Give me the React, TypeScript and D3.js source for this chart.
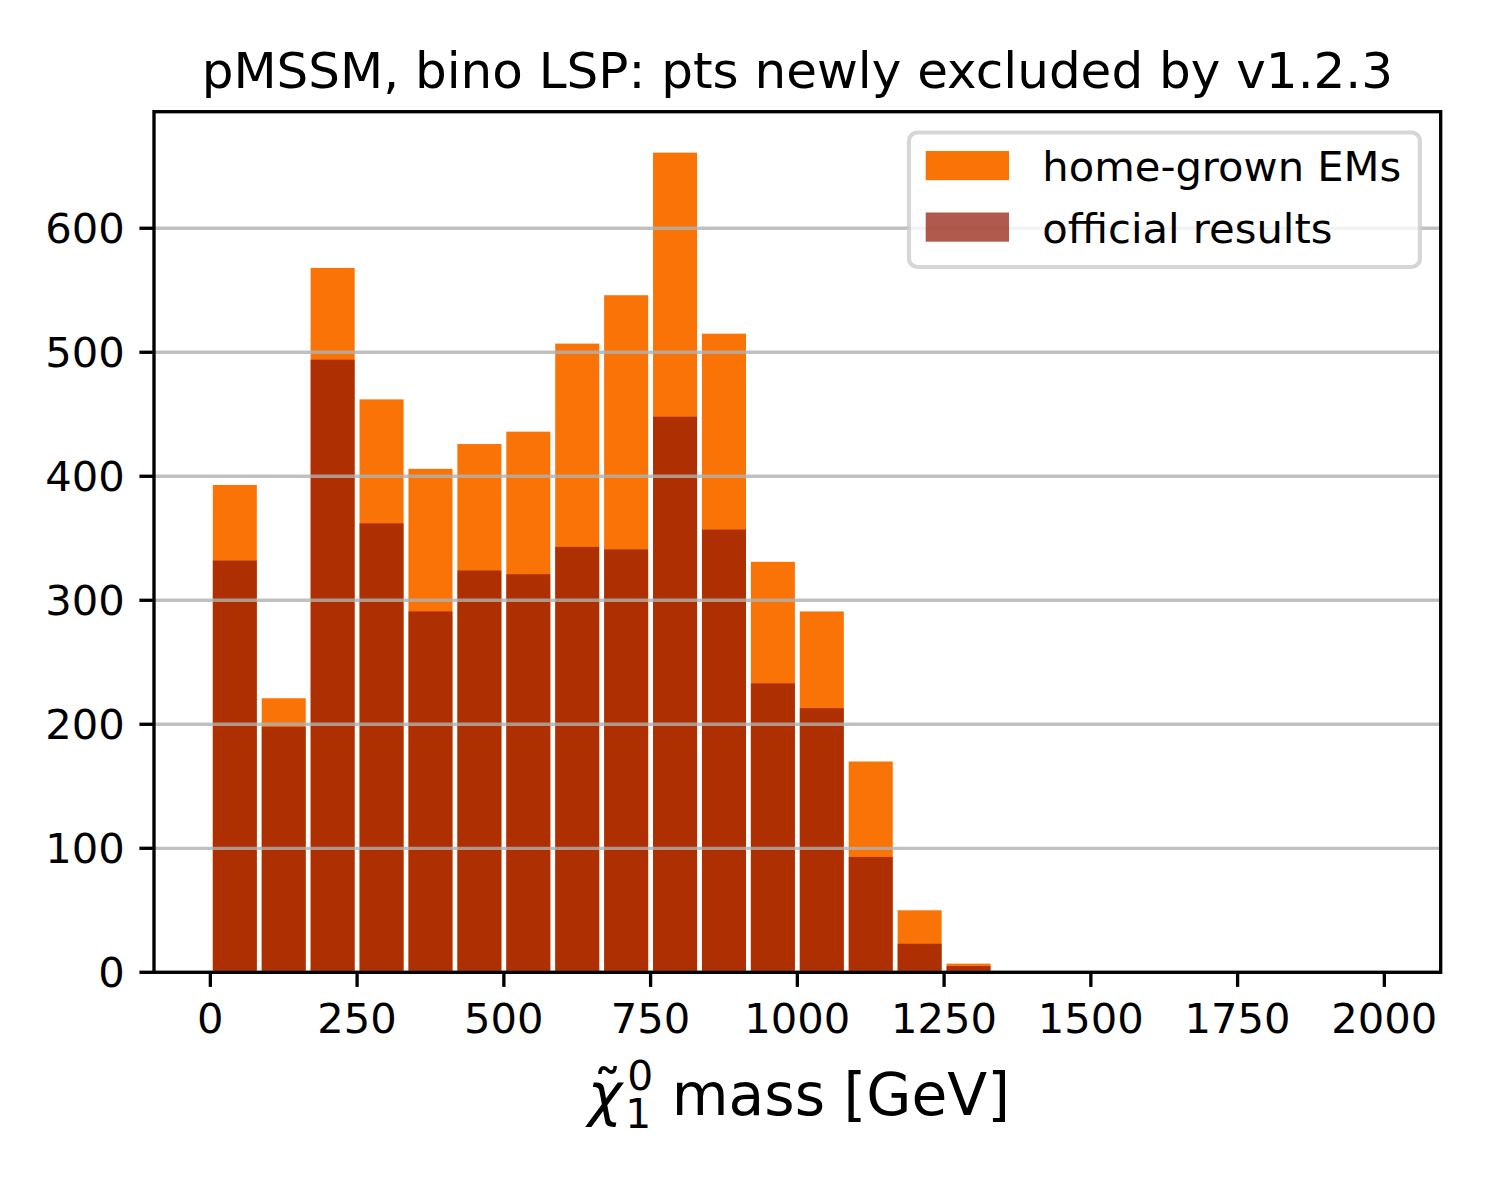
import { useEffect, useRef } from "react";
import * as d3 from "d3";

// histogram: 24 bins between 0 and 2000 GeV
const binCount = 24;
const massRange = [0, 2000];
const homeGrown = [393, 221, 568, 462, 406, 426, 436, 507, 546, 661, 515, 331, 291, 170, 50, 7, 0, 0, 0, 0, 0, 0, 0, 0];
const official = [332, 198, 494, 362, 291, 324, 321, 343, 341, 448, 357, 233, 213, 93, 23, 5, 0, 0, 0, 0, 0, 0, 0, 0];
const xTicks = [0, 250, 500, 750, 1000, 1250, 1500, 1750, 2000];
const yTicks = [0, 100, 200, 300, 400, 500, 600];
const legendLabels = ["home-grown EMs", "official results"];
const chartTitle = "pMSSM, bino LSP: pts newly excluded by v1.2.3";

const W = 1500;
const H = 1200;
const FONT = "DejaVu Sans, sans-serif";
const ORANGE = "#f97306";
const BRICK = "#8f1402";

const App = () => {
  const svgRef = useRef<SVGSVGElement>(null);

  useEffect(() => {
    if (!svgRef.current) return;
    const svg = d3.select(svgRef.current);
    svg.selectAll("*").remove();

    const left = 154, right = 1440.7, top = 111.7, bottom = 972.3;
    const x = d3.scaleLinear().domain([-96, 2096]).range([left, right]);
    const y = d3.scaleLinear().domain([0, 694]).range([bottom, top]);

    const binW = (massRange[1] - massRange[0]) / binCount;
    const edges = d3.range(binCount).map((i) => massRange[0] + i * binW);
    const barW = x(binW * 0.9) - x(0);

    svg.append("rect").attr("width", W).attr("height", H).attr("fill", "#fff");

    const drawBars = (vals: number[], color: string, opacity: number) => {
      svg.append("g")
        .selectAll("rect")
        .data(vals.map((v, i) => ({ v, e: edges[i] })).filter((d) => d.v > 0))
        .enter()
        .append("rect")
        .attr("x", (d) => x(d.e + binW * 0.05))
        .attr("width", barW)
        .attr("y", (d) => y(d.v))
        .attr("height", (d) => y(0) - y(d.v))
        .attr("fill", color)
        .attr("fill-opacity", opacity);
    };
    drawBars(homeGrown, ORANGE, 1);
    drawBars(official, BRICK, 0.7);

    // horizontal grid, drawn over the bars
    svg.append("g")
      .selectAll("line")
      .data(yTicks)
      .enter()
      .append("line")
      .attr("x1", left).attr("x2", right)
      .attr("y1", (d) => y(d)).attr("y2", (d) => y(d))
      .attr("stroke", "#b0b0b0")
      .attr("stroke-opacity", 0.8)
      .attr("stroke-width", 3.33);

    // frame
    svg.append("rect")
      .attr("x", left).attr("y", top)
      .attr("width", right - left).attr("height", bottom - top)
      .attr("fill", "none").attr("stroke", "#000").attr("stroke-width", 3.33);

    // x ticks
    const xt = svg.append("g");
    xTicks.forEach((t) => {
      xt.append("line")
        .attr("x1", x(t)).attr("x2", x(t))
        .attr("y1", bottom).attr("y2", bottom + 14.6)
        .attr("stroke", "#000").attr("stroke-width", 3.33);
      xt.append("text")
        .attr("x", x(t)).attr("y", 1033)
        .attr("text-anchor", "middle")
        .attr("font-family", FONT).attr("font-size", 41.67)
        .text(t);
    });

    // y ticks
    const yt = svg.append("g");
    yTicks.forEach((t) => {
      yt.append("line")
        .attr("x1", left - 14.6).attr("x2", left)
        .attr("y1", y(t)).attr("y2", y(t))
        .attr("stroke", "#000").attr("stroke-width", 3.33);
      yt.append("text")
        .attr("x", 124.8).attr("y", y(t))
        .attr("dy", "0.36em")
        .attr("text-anchor", "end")
        .attr("font-family", FONT).attr("font-size", 41.67)
        .text(t);
    });

    // title
    svg.append("text")
      .attr("x", (left + right) / 2).attr("y", 88.3)
      .attr("text-anchor", "middle")
      .attr("font-family", FONT).attr("font-size", 50)
      .text(chartTitle);

    // x label: chi~_1^0 mass [GeV], one text element with positioned tspans
    const fs = 58.3;
    const base = 1115;
    const lab = svg.append("text")
      .attr("font-family", FONT).attr("font-size", fs);
    const chi = lab.append("tspan")
      .attr("x", 0).attr("y", base)
      .attr("font-style", "italic")
      .text("χ");
    const chiW = (chi.node() as SVGTextContentElement).getComputedTextLength();
    const tilde = lab.append("tspan")
      .attr("y", base - 3)
      .text("˜");
    const tildeW = (tilde.node() as SVGTextContentElement).getComputedTextLength();
    tilde.attr("x", chiW * 0.58 - tildeW / 2);
    const sx = chiW + 3;
    const sub = lab.append("tspan")
      .attr("x", sx).attr("y", base + 13)
      .attr("font-size", fs * 0.7)
      .text("1");
    lab.append("tspan")
      .attr("x", sx + 2).attr("y", base - 25)
      .attr("font-size", fs * 0.7)
      .text("0");
    const subW = (sub.node() as SVGTextContentElement).getComputedTextLength();
    lab.append("tspan")
      .attr("x", sx + subW + 2 + fs * 0.32).attr("y", base)
      .text("mass [GeV]");
    const bb = (lab.node() as SVGTextElement).getBBox();
    lab.attr("transform", `translate(${(left + right) / 2 - (bb.x + bb.width / 2)},0)`);

    // legend
    const lg = svg.append("g");
    lg.append("rect")
      .attr("x", 909).attr("y", 132.5)
      .attr("width", 1419.9 - 909).attr("height", 267 - 132.5)
      .attr("rx", 8.3)
      .attr("fill", "#fff").attr("fill-opacity", 0.8)
      .attr("stroke", "#cccccc").attr("stroke-opacity", 0.8)
      .attr("stroke-width", 4.17);
    const legendColors = [
      { c: ORANGE, o: 1 },
      { c: BRICK, o: 0.7 },
    ];
    legendLabels.forEach((l, i) => {
      const by = 181 + i * 61.5;
      lg.append("rect")
        .attr("x", 925.7).attr("y", by - 30)
        .attr("width", 83.3).attr("height", 29.2)
        .attr("fill", legendColors[i].c)
        .attr("fill-opacity", legendColors[i].o);
      lg.append("text")
        .attr("x", 1042.3).attr("y", by)
        .attr("font-family", FONT).attr("font-size", 41.67)
        .text(l);
    });
  }, []);

  return (
    <svg
      ref={svgRef}
      width={W}
      height={H}
      style={{ position: "absolute", left: 0, top: 0, display: "block" }}
    />
  );
};

export default App;
